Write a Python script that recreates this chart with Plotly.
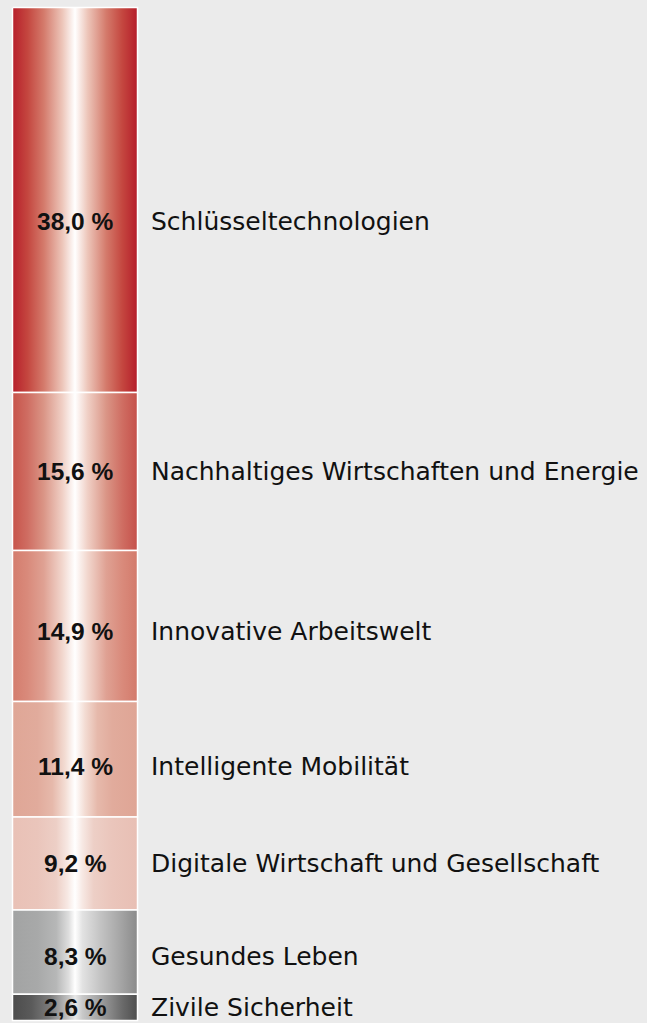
import plotly.graph_objects as go
import numpy as np

categories = [
    "Schlüsseltechnologien",
    "Nachhaltiges Wirtschaften und Energie",
    "Innovative Arbeitswelt",
    "Intelligente Mobilität",
    "Digitale Wirtschaft und Gesellschaft",
    "Gesundes Leben",
    "Zivile Sicherheit",
]
shares = [38.0, 15.6, 14.9, 11.4, 9.2, 8.3, 2.6]
value_labels = ["38,0 %", "15,6 %", "14,9 %", "11,4 %", "9,2 %", "8,3 %", "2,6 %"]

# gradient colour scales per segment (edge -> white centre -> edge)
gradients = [
    [[0, "#b71f2b"], [0.12, "#c4463f"], [0.25, "#d47a6b"], [0.4, "#edc6ba"], [0.5, "#ffffff"],
     [0.6, "#edc6ba"], [0.75, "#d47a6b"], [0.88, "#c4463f"], [1, "#b51d2a"]],
    [[0, "#c7534a"], [0.12, "#cf6d62"], [0.25, "#da9586"], [0.4, "#f0d0c6"], [0.5, "#ffffff"],
     [0.6, "#f0d0c6"], [0.75, "#da9586"], [0.88, "#cf6d62"], [1, "#c5504a"]],
    [[0, "#d47c6d"], [0.12, "#d98a7b"], [0.25, "#dfa193"], [0.4, "#f2d7ce"], [0.5, "#ffffff"],
     [0.6, "#f2d7ce"], [0.75, "#dfa193"], [0.88, "#d98a7b"], [1, "#d37a6b"]],
    [[0, "#dfa696"], [0.2, "#e1ab9c"], [0.32, "#e6b9ab"], [0.42, "#f3dcd3"], [0.5, "#ffffff"],
     [0.58, "#f3dcd3"], [0.68, "#e6b9ab"], [0.8, "#e1ab9c"], [1, "#dfa595"]],
    [[0, "#e9c1b6"], [0.2, "#eac5bb"], [0.35, "#edcfc6"], [0.44, "#f7e8e3"], [0.5, "#ffffff"],
     [0.56, "#f7e8e3"], [0.65, "#edcfc6"], [0.8, "#eac5bb"], [1, "#e8bfb4"]],
    [[0, "#a2a3a3"], [0.2, "#a8a9a9"], [0.35, "#b6b7b7"], [0.45, "#dedede"], [0.5, "#ffffff"],
     [0.56, "#e2e2e2"], [0.7, "#c4c4c4"], [0.85, "#a8a8a8"], [1, "#8a8a8a"]],
    [[0, "#4c4c4c"], [0.15, "#5a5a5a"], [0.3, "#7c7c7c"], [0.45, "#c4c4c4"], [0.5, "#e8e8e8"],
     [0.56, "#c8c8c8"], [0.7, "#a0a0a0"], [0.88, "#6a6a6a"], [1, "#4e4e4e"]],
]
# vertical nudges (px) of the label pairs, style only
label_nudge = [-22, 0, -6, -7, 0, -4, 0]

W, H = 647, 1023
bar_left_px, bar_right_px = 12.5, 137.5
top_px, bottom_px = 7.5, 1020.5
px_per_x = bar_right_px - bar_left_px
total = sum(shares)
px_per_pct = (bottom_px - top_px) / total

x_range = [-bar_left_px / px_per_x, (W - bar_left_px) / px_per_x]
y_range = [(H - top_px) / px_per_pct, -top_px / px_per_pct]

ends = np.cumsum(shares)
starts = ends - np.array(shares)

fig = go.Figure()
for i, (s, e) in enumerate(zip(starts, ends)):
    fig.add_trace(go.Scatter(
        x=[0, 1, 1, 0, 0],
        y=[s, s, e, e, s],
        mode="lines",
        fill="toself",
        fillgradient=dict(type="horizontal", colorscale=gradients[i]),
        line=dict(color="white", width=1.5),
        hoverinfo="skip",
        showlegend=False,
    ))

centers = (starts + ends) / 2
label_x = (149 - bar_left_px) / px_per_x
for i in range(len(categories)):
    fig.add_annotation(
        x=0.5, y=centers[i], xref="x", yref="y", yshift=label_nudge[i],
        text=f"<b>{value_labels[i]}</b>", showarrow=False,
        xanchor="center", yanchor="middle",
        font=dict(family="Arial", size=24.5, color="#111111"),
    )
    fig.add_annotation(
        x=label_x, y=centers[i], xref="x", yref="y", yshift=label_nudge[i],
        text=categories[i], showarrow=False,
        xanchor="left", yanchor="middle",
        font=dict(family="DejaVu Sans", size=25, color="#111111"),
    )

fig.update_layout(
    width=W, height=H,
    margin=dict(l=0, r=0, t=0, b=0),
    paper_bgcolor="#ebebeb",
    plot_bgcolor="#ebebeb",
    xaxis=dict(range=x_range, visible=False, fixedrange=True),
    yaxis=dict(range=y_range, visible=False, fixedrange=True),
    showlegend=False,
)

fig.write_html(
    "out.html",
    config={"displayModeBar": False},
    post_script="document.body.style.margin='0';document.body.style.overflow='hidden';",
)
